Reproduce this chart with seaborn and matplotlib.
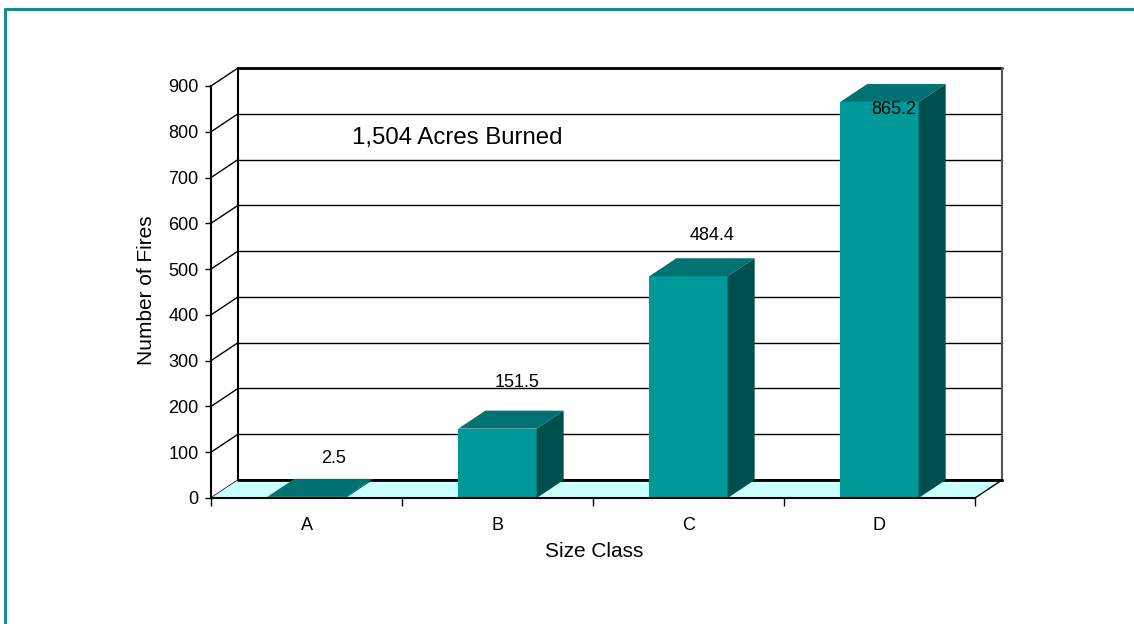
import numpy as np
import matplotlib
matplotlib.use("Agg")
import matplotlib.pyplot as plt
from matplotlib.patches import Polygon
from matplotlib.lines import Line2D
import seaborn as sns

# datos
clases = ["A", "B", "C", "D"]
incendios = [2.5, 151.5, 484.4, 865.2]
etiquetas = ["2.5", "151.5", "484.4", "865.2"]
yticks = [0, 100, 200, 300, 400, 500, 600, 700, 800, 900]
nota = "1,504 Acres Burned"

sns.set_style("white")
plt.rcParams['font.family'] = ['Liberation Sans', 'DejaVu Sans']
plt.rcParams['text.color'] = 'black'
plt.rcParams['axes.labelcolor'] = 'black'
plt.rcParams['xtick.color'] = 'black'
plt.rcParams['ytick.color'] = 'black'

W, H, DPI = 1134, 624, 100
fig = plt.figure(figsize=(W / DPI, H / DPI), dpi=DPI)
ax = fig.add_axes([211 / W, (H - 498) / H, 764 / W, 412 / H])
ax.set_facecolor("none")

# profundidad del efecto 3D en pixeles -> unidades de datos
DX_PX, DY_PX = 27, 18
ymax = 900
dx = DX_PX / (764 / 4)
dy = DY_PX / (412 / ymax)

frente = "#009999"
techo = "#007272"
lado = "#004f4f"
piso = "#ccffff"

sns.barplot(x=clases, y=incendios, color=frente, width=0.41, saturation=1,
            linewidth=0, ax=ax, zorder=3)
barras = list(ax.patches)
ax.set_xlim(-0.5, 3.5)
ax.set_ylim(0, ymax)

x0, x1 = -0.5, 3.5
# pared del fondo
ax.add_patch(Polygon([(x0 + dx, dy), (x1 + dx, dy), (x1 + dx, ymax + dy), (x0 + dx, ymax + dy)],
                     closed=True, facecolor="white", edgecolor="none", zorder=0.5, clip_on=False))
for t in yticks:
    lw = 2 if t == 0 else 1
    ax.plot([x0 + dx, x1 + dx], [t + dy, t + dy], color="black", lw=lw, zorder=0.6, clip_on=False)
    ax.plot([x0, x0 + dx], [t, t + dy], color="black", lw=1, zorder=0.6, clip_on=False)
ax.plot([x0 + dx, x1 + dx], [ymax + dy, ymax + dy], color="black", lw=2, zorder=0.6, clip_on=False)
ax.plot([x0 + dx, x0 + dx], [dy, ymax + dy], color="black", lw=1.5, zorder=0.6, clip_on=False)
ax.plot([x1 + dx, x1 + dx], [dy, ymax + dy], color="#555555", lw=1.5, zorder=0.6, clip_on=False)

# piso
ax.add_patch(Polygon([(x0, 0), (x1, 0), (x1 + dx, dy), (x0 + dx, dy)], closed=True,
                     facecolor=piso, edgecolor="none", zorder=0.7, clip_on=False))
ax.plot([x0 + dx, x1 + dx], [dy, dy], color="black", lw=2, zorder=0.8, clip_on=False)
ax.plot([x1, x1 + dx], [0, dy], color="black", lw=1, zorder=0.8, clip_on=False)

# caras de las barras
for b in barras:
    a = b.get_x()
    c = a + b.get_width()
    h = b.get_height()
    ax.add_patch(Polygon([(a, h), (c, h), (c + dx, h + dy), (a + dx, h + dy)], closed=True,
                         facecolor=techo, edgecolor="none", zorder=3, clip_on=False))
    ax.add_patch(Polygon([(c, 0), (c + dx, dy), (c + dx, h + dy), (c, h)], closed=True,
                         facecolor=lado, edgecolor="none", zorder=3, clip_on=False))

# etiquetas de valores
desplaz = [(0, 12), (-7, 20), (-3, 14), (-13, -34)]
for i, b in enumerate(barras):
    xc = b.get_x() + b.get_width() / 2 + dx
    ax.annotate(etiquetas[i], (xc, b.get_height() + dy), xytext=desplaz[i],
                textcoords="offset pixels", ha="center", va="bottom", fontsize=13,
                zorder=5, annotation_clip=False)

ax.text(0.79, 786, nota, ha="center", va="center", fontsize=17.3, zorder=5)

# ejes
for s in ["top", "right"]:
    ax.spines[s].set_visible(False)
for s in ["left", "bottom"]:
    ax.spines[s].set_color("black")
    ax.spines[s].set_linewidth(1.5)
    ax.spines[s].set_zorder(4)
ax.set_yticks(yticks)
ax.set_xticks(range(len(clases)))
ax.set_xticklabels(clases)
ax.set_xticks(np.arange(-0.5, 4, 1), minor=True)
ax.tick_params(axis="y", which="major", left=True, length=4, width=1, pad=5,
               labelsize=13, color="black")
ax.tick_params(axis="x", which="major", bottom=False, length=0, pad=14, labelsize=13)
ax.tick_params(axis="x", which="minor", bottom=True, length=6, width=1, color="black")

ax.set_xlabel("Size Class", fontsize=15)
ax.set_ylabel("Number of Fires", fontsize=15)
ax.xaxis.set_label_coords(0.501, -0.129)
ax.yaxis.set_label_coords(-0.084, 0.505)
ax.xaxis.label.set_va("center")
ax.yaxis.label.set_va("center")

# marco exterior
borde = "#1a8c86"
fig.add_artist(Line2D([5 / W, 1], [1 - 9 / H, 1 - 9 / H], color=borde, lw=2.2))
fig.add_artist(Line2D([5 / W, 5 / W], [0, 1 - 9 / H], color=borde, lw=2.2))

fig.savefig("out.png", dpi=DPI)
